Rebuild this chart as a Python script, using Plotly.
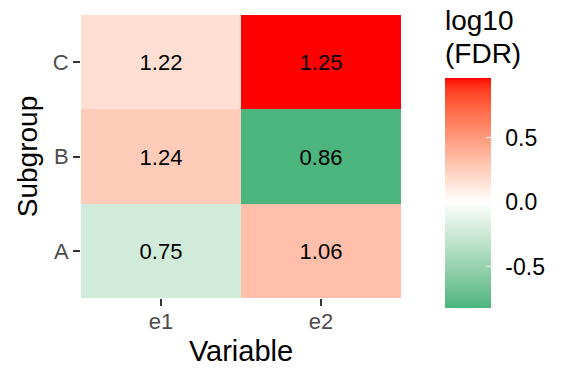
import plotly.graph_objects as go
import numpy as np

variables = ["e1", "e2"]
subgroups = ["A", "B", "C"]
# log10(FDR) fill values, rows = A, B, C ; cols = e1, e2
fill_values = [[-0.22, 0.32],
               [0.26, -0.82],
               [0.16, 0.96]]
label_values = [["0.75", "1.06"],
                ["1.24", "0.86"],
                ["1.22", "1.25"]]
cbar_ticks = [-0.5, 0.0, 0.5]
cbar_labels = ["-0.5", "0.0", "0.5"]

# ---- colour scale interpolated in Lab space: green (min) -> white (0) -> red (max)
def srgb_to_lin(c):
    c = c / 255.0
    return np.where(c <= 0.04045, c / 12.92, ((c + 0.055) / 1.055) ** 2.4)

def lin_to_srgb(c):
    c = np.clip(c, 0, 1)
    return np.where(c <= 0.0031308, 12.92 * c, 1.055 * c ** (1 / 2.4) - 0.055) * 255

M = np.array([[0.4124, 0.3576, 0.1805], [0.2126, 0.7152, 0.0722], [0.0193, 0.1192, 0.9505]])
Minv = np.linalg.inv(M)
WHITE = np.array([0.95047, 1.0, 1.08883])

def f(t):
    return np.where(t > (6 / 29) ** 3, np.cbrt(t), t / (3 * (6 / 29) ** 2) + 4 / 29)

def finv(t):
    return np.where(t > 6 / 29, t ** 3, 3 * (6 / 29) ** 2 * (t - 4 / 29))

def rgb_to_lab(rgb):
    xyz = M @ srgb_to_lin(np.array(rgb, float)) / WHITE
    fx, fy, fz = f(xyz)
    return np.array([116 * fy - 16, 500 * (fx - fy), 200 * (fy - fz)])

def lab_to_rgb(lab):
    L, a, b = lab
    fy = (L + 16) / 116
    fx = fy + a / 500
    fz = fy - b / 200
    xyz = np.array([finv(fx), finv(fy), finv(fz)]) * WHITE
    return lin_to_srgb(Minv @ xyz)

low = rgb_to_lab([76, 180, 125])
mid = rgb_to_lab([255, 255, 255])
high = rgb_to_lab([255, 0, 0])

vals = np.array(fill_values).ravel()
vmin, vmax = vals.min(), vals.max()

def colour_at(v):
    if v <= 0:
        t = v / vmin
        lab = mid + (low - mid) * t
    else:
        t = v / vmax
        lab = mid + (high - mid) * t
    r, g, b = lab_to_rgb(lab)
    return f"rgb({int(round(float(r)))},{int(round(float(g)))},{int(round(float(b)))})"

n = 61
colorscale = []
for i in range(n):
    s = i / (n - 1)
    v = vmin + s * (vmax - vmin)
    colorscale.append([s, colour_at(v)])

FONT = "Liberation Sans, Arial, sans-serif"

W, H = 576, 384
L_M, R_M, T_M, B_M = 81, 175, 15, 86
PW = W - L_M - R_M
PH = H - T_M - B_M

def px_x(x):
    return (x - L_M) / PW

def px_y(y):
    return (H - B_M - y) / PH

TS = "\u2009\u2009"

fig = go.Figure(go.Heatmap(
    x=variables, y=subgroups, z=fill_values,
    text=label_values, texttemplate="%{text}",
    textfont=dict(size=22, color="black", family=FONT),
    colorscale=colorscale, zmin=vmin, zmax=vmax,
    xgap=0, ygap=0, hoverinfo="skip",
    colorbar=dict(
        thickness=46, thicknessmode="pixels",
        len=230, lenmode="pixels",
        x=px_x(445), xanchor="left", xpad=0,
        y=px_y(308), yanchor="bottom", ypad=0,
        outlinewidth=0,
        tickvals=cbar_ticks, ticktext=[TS + t for t in cbar_labels],
        ticks="inside", ticklen=5, tickcolor="white", tickwidth=1.5,
        tickfont=dict(size=23, color="black", family=FONT),
    ),
))

fig.add_annotation(text="log10", xref="paper", yref="paper",
                   x=px_x(443), y=px_y(20.5), xanchor="left", yanchor="middle",
                   showarrow=False, font=dict(size=28, color="black", family=FONT))
fig.add_annotation(text="(FDR)", xref="paper", yref="paper",
                   x=px_x(443), y=px_y(53.5), xanchor="left", yanchor="middle",
                   showarrow=False, font=dict(size=28, color="black", family=FONT))

fig.update_layout(
    width=W, height=H,
    margin=dict(l=L_M, r=R_M, t=T_M, b=B_M),
    paper_bgcolor="white", plot_bgcolor="#EBEBEB",
    font=dict(family=FONT),
    hovermode=False,
    xaxis=dict(
        title=dict(text="Variable", font=dict(size=29, color="black"), standoff=7),
        tickfont=dict(size=22, color="#4D4D4D"),
        ticks="outside", ticklen=7, tickcolor="#333333", tickwidth=2,
        ticklabelstandoff=-3,
        showgrid=False, zeroline=False, showline=False, automargin=False,
    ),
    yaxis=dict(
        title=dict(text="Subgroup", font=dict(size=28, color="black"), standoff=6),
        tickfont=dict(size=22, color="#4D4D4D"),
        ticks="outside", ticklen=7, tickcolor="#333333", tickwidth=2,
        showgrid=False, zeroline=False, showline=False, automargin=False,
    ),
)

# remove the browser's default 8px body margin so the figure sits at the window corner
fig.write_html("out.html",
               config={"displayModeBar": False, "staticPlot": True},
               post_script="document.body.style.margin='0';document.body.style.padding='0';")
